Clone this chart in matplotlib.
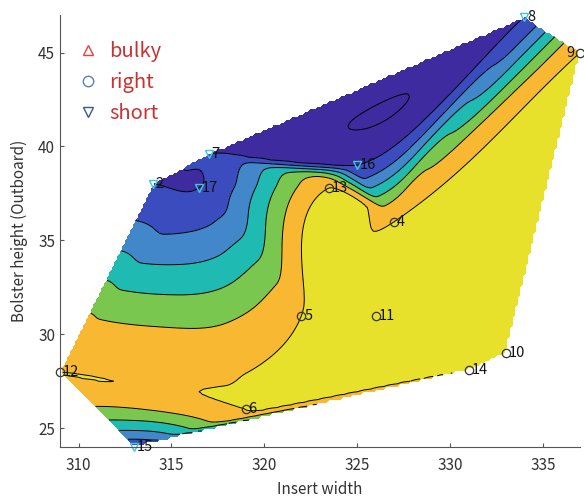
import numpy as np
import matplotlib
matplotlib.use('Agg')
import matplotlib.pyplot as plt
import matplotlib.tri as mtri
from matplotlib.colors import ListedColormap, BoundaryNorm
from matplotlib.lines import Line2D

plt.rcParams['font.family'] = ['Noto Sans CJK KR', 'DejaVu Sans']

# design points: insert width, bolster height, outcome class
point_ids = [2, 4, 5, 6, 7, 8, 9, 10, 11, 12, 13, 14, 15, 16, 17]
insert_width = [314, 327, 322, 319, 317, 334, 337, 333, 326, 309, 323.5, 331, 313, 325, 316.5]
bolster_height = [38, 36, 31, 26, 39.6, 46.9, 45, 29, 31, 28, 37.8, 28.1, 24, 39, 37.8]
fit_class = ['short', 'right', 'right', 'right', 'short', 'short', 'right', 'right',
             'right', 'right', 'right', 'right', 'short', 'short', 'short']
class_value = {'bulky': 2, 'right': 1, 'short': 0}

levels = [-0.2, 0.0, 0.2, 0.4, 0.6, 0.8, 1.0, 1.2]
band_colors = ['#3e2b9f', '#3a4cbe', '#4287c9', '#1fbbb3', '#79c74e', '#f8b831', '#e8e12c']


def node_gradients(tri, z):
    # area-weighted mean of the plane slopes of the triangles around each node
    px, py = tri.x, tri.y
    gsum = np.zeros((len(px), 2))
    wsum = np.zeros(len(px))
    for t in tri.triangles:
        A = np.c_[px[t], py[t], np.ones(3)]
        a, b, _ = np.linalg.solve(A, z[t])
        area = 0.5 * abs((px[t[1]] - px[t[0]]) * (py[t[2]] - py[t[0]])
                         - (px[t[2]] - px[t[0]]) * (py[t[1]] - py[t[0]]))
        for v in t:
            gsum[v] += area * np.array([a, b])
            wsum[v] += area
    return gsum[:, 0] / wsum, gsum[:, 1] / wsum


x = np.array(insert_width, dtype=float)
y = np.array(bolster_height, dtype=float)
z = np.array([class_value[c] for c in fit_class], dtype=float)

tri = mtri.Triangulation(x, y)
interp = mtri.CubicTriInterpolator(tri, z, kind='user', dz=node_gradients(tri, z))
gx, gy = np.meshgrid(np.linspace(309, 337, 200), np.linspace(24, 47, 165))
gz = interp(gx, gy)

fig = plt.figure(figsize=(5.84, 4.99), dpi=100)
ax = fig.add_axes([60 / 584, 52 / 499, 520 / 584, 432 / 499])

cmap = ListedColormap(band_colors)
cmap.set_under(band_colors[0])
cmap.set_over(band_colors[-1])
norm = BoundaryNorm(levels, cmap.N)
ax.contourf(gx, gy, gz, levels=levels, cmap=cmap, norm=norm, extend='both')
ax.contour(gx, gy, gz, levels=levels, colors='black', linewidths=0.7, linestyles='solid')

for pid, xi, yi, c in zip(point_ids, x, y, fit_class):
    if c == 'short':
        ax.plot(xi, yi, 'v', mfc='none', mec='#3fc8d6', ms=6, mew=1.0, clip_on=False)
    else:
        ax.plot(xi, yi, 'o', mfc='none', mec='#333333', ms=6, mew=0.9, clip_on=False)
    # the point on the right edge gets its number on the left
    if xi >= 336:
        ax.text(xi - 0.3, yi, str(pid), fontsize=10.5, va='center', ha='right',
                color='#111111', clip_on=False)
    else:
        ax.text(xi + 0.15, yi, str(pid), fontsize=10.5, va='center', ha='left',
                color='#111111', clip_on=False)

handles = [
    Line2D([], [], ls='none', marker='^', mfc='none', mec='#f03c3c', ms=7.5, label='bulky'),
    Line2D([], [], ls='none', marker='o', mfc='none', mec='#5b7fb8', ms=7.5, label='right'),
    Line2D([], [], ls='none', marker='v', mfc='none', mec='#3b5a8c', ms=7.5, label='short'),
]
ax.legend(handles=handles, loc='upper left', bbox_to_anchor=(0.0, 0.982), frameon=False,
          fontsize=14.5, labelcolor='#c83232', handlelength=1.0, handletextpad=0.55,
          labelspacing=0.5)

ax.set_xlim(309, 337)
ax.set_ylim(24, 47)
ax.set_xticks([310, 315, 320, 325, 330, 335])
ax.set_yticks([25, 30, 35, 40, 45])
for side in ['top', 'right']:
    ax.spines[side].set_visible(False)
for side in ['left', 'bottom']:
    ax.spines[side].set_color('#555555')
ax.tick_params(direction='in', length=3, color='#555555', labelsize=11, labelcolor='#333333')
ax.tick_params(axis='x', pad=7)
ax.set_xlabel('Insert width', fontsize=11, color='#333333', labelpad=5)
ax.set_ylabel('Bolster height (Outboard)', fontsize=11, color='#333333', labelpad=7)

fig.savefig('out.png', dpi=100)
